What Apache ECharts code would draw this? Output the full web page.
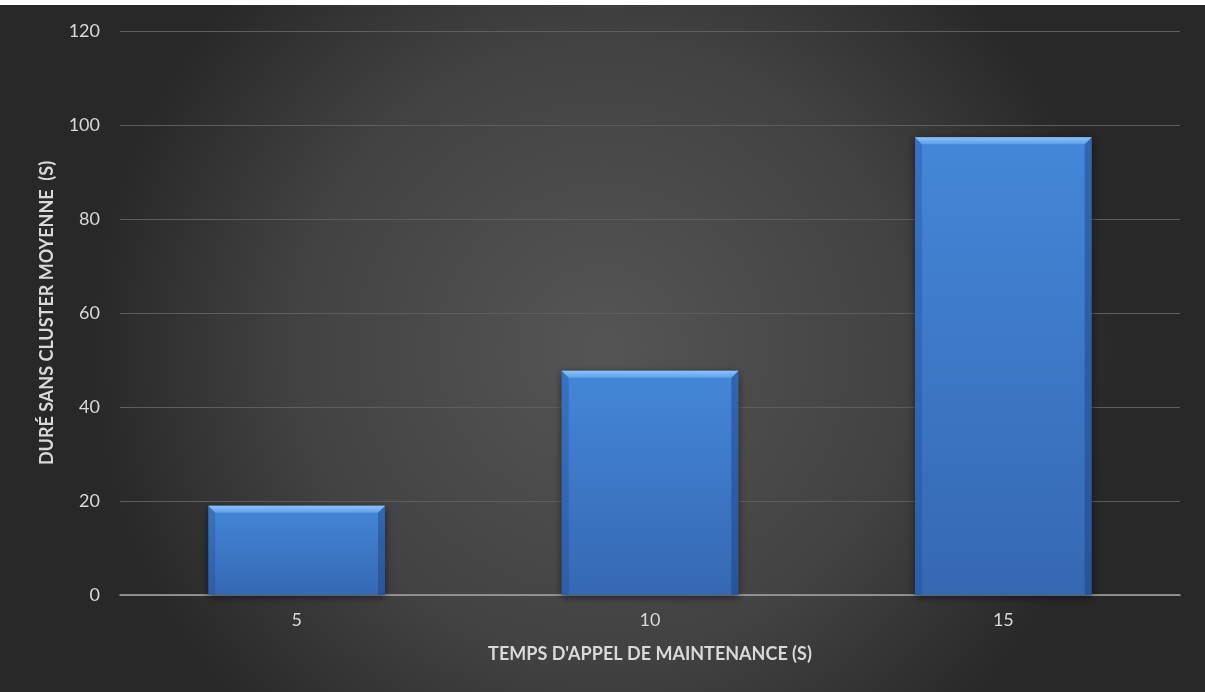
<!DOCTYPE html>
<html>
<head>
<meta charset="utf-8">
<script src="https://cdn.jsdelivr.net/npm/echarts@6/dist/echarts.min.js"></script>
<style>
  html, body { margin: 0; padding: 0; background: #ffffff; }
  #chart { position: absolute; left: 0; top: 5px; width: 1205px; height: 687px; }
</style>
</head>
<body>
<div id="chart"></div>
<script>
// Maintenance call time (s) vs. average duration without cluster (s)
const categories = ['5', '10', '15'];
const durations = [19, 47.7, 97.4];
const yMin = 0, yMax = 120, yStep = 20;

const chart = echarts.init(document.getElementById('chart'), null, { renderer: 'canvas' });

const labelColor = '#d9d9d9';
const fontFamily = 'Lato, "Open Sans", "Liberation Sans", sans-serif';

// Bevelled bar: body + lighter top chamfer + darker side rims
function renderBar(params, api) {
  const idx = api.value(0);
  const val = api.value(1);
  const top = api.coord([idx, val]);
  const base = api.coord([idx, 0]);
  const band = api.size([1, 0])[0];
  const w = band * 0.5;
  const x0 = top[0] - w / 2;
  const x1 = top[0] + w / 2;
  const y0 = top[1];
  const y1 = base[1];
  const bev = 7;
  return {
    type: 'group',
    children: [
      {
        type: 'rect',
        shape: { x: x0, y: y0, width: w, height: y1 - y0 },
        style: {
          fill: new echarts.graphic.LinearGradient(0, 0, 0, 1, [
            { offset: 0, color: '#4487d8' },
            { offset: 1, color: '#3568b3' }
          ]),
          shadowBlur: 8,
          shadowColor: 'rgba(0,0,0,0.55)',
          shadowOffsetX: 0,
          shadowOffsetY: 2
        }
      },
      {
        type: 'polygon',
        shape: { points: [[x0, y0], [x0 + bev, y0 + bev], [x0 + bev, y1], [x0, y1]] },
        style: { fill: 'rgba(30,70,140,0.3)' }
      },
      {
        type: 'polygon',
        shape: { points: [[x1, y0], [x1 - bev, y0 + bev], [x1 - bev, y1], [x1, y1]] },
        style: { fill: 'rgba(20,55,120,0.4)' }
      },
      {
        type: 'polygon',
        shape: { points: [[x0, y0], [x1, y0], [x1 - bev, y0 + bev], [x0 + bev, y0 + bev]] },
        style: {
          fill: new echarts.graphic.LinearGradient(0, 0, 0, 1, [
            { offset: 0, color: '#8cc4fb' },
            { offset: 1, color: '#5d9fe8' }
          ])
        }
      }
    ]
  };
}

chart.setOption({
  backgroundColor: {
    type: 'radial', x: 0.5, y: 0.5, r: 0.75,
    colorStops: [
      { offset: 0, color: '#555555' },
      { offset: 0.6, color: '#424242' },
      { offset: 1, color: '#282828' }
    ]
  },
  animation: false,
  grid: { left: 120, right: 25, top: 26, bottom: 97, containLabel: false },
  xAxis: {
    type: 'category',
    data: categories,
    name: "TEMPS D'APPEL DE MAINTENANCE (S)",
    nameLocation: 'middle',
    nameGap: 50,
    nameTextStyle: { color: labelColor, fontSize: 18, fontWeight: 'bold', fontFamily },
    axisLine: { lineStyle: { color: '#a6a6a6', width: 1.5 } },
    axisTick: { show: false },
    axisLabel: { color: labelColor, fontSize: 18, margin: 16, fontFamily }
  },
  yAxis: {
    type: 'value',
    min: yMin, max: yMax, interval: yStep,
    name: 'DURÉ SANS CLUSTER MOYENNE  (S)',
    nameLocation: 'middle',
    nameGap: 64,
    nameRotate: 90,
    nameTextStyle: { color: labelColor, fontSize: 18, fontWeight: 'bold', fontFamily },
    axisLine: { show: false },
    axisTick: { show: false },
    axisLabel: { color: labelColor, fontSize: 18, margin: 20, fontFamily },
    splitLine: { lineStyle: { color: '#5e5e5e', width: 1 } }
  },
  series: [{
    type: 'custom',
    renderItem: renderBar,
    encode: { x: 0, y: 1 },
    data: durations.map((v, i) => [i, v]),
    z: 3
  }]
});
</script>
</body>
</html>
